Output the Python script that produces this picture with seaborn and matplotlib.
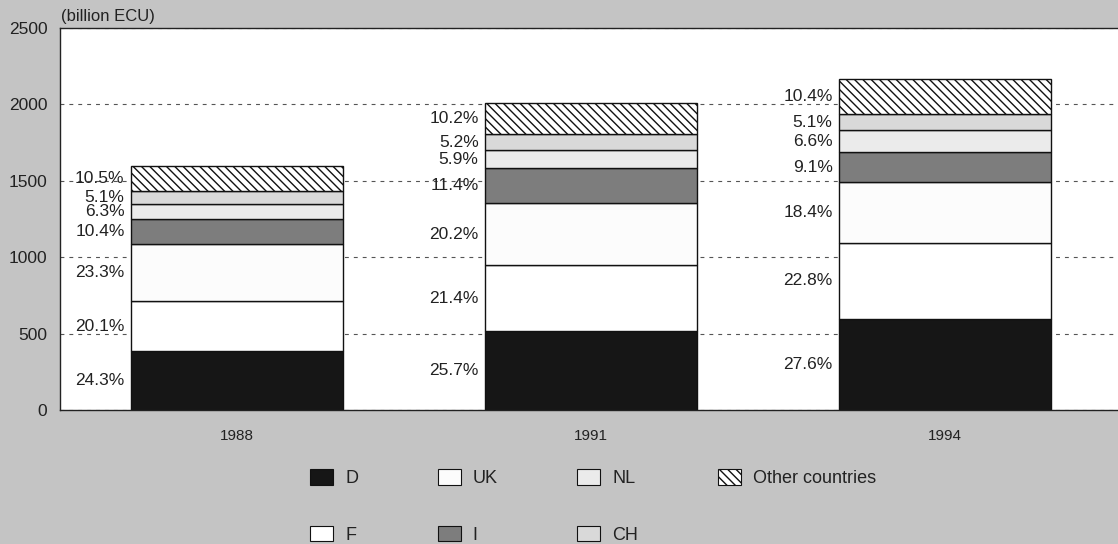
#Importing the necessary libraries
import numpy as np
import pandas as pd
import matplotlib
matplotlib.use('Agg')
import matplotlib.pyplot as plt
from matplotlib.patches import Patch
import seaborn as sns

sns.set_style('white')
plt.rcParams['font.family'] = ['Liberation Sans', 'DejaVu Sans']
plt.rcParams['hatch.linewidth'] = 1.0

#DATA
years = ['1988', '1991', '1994']
totals = [1600, 2010, 2165]   # bar tops, billion ECU
countries = ['D', 'F', 'UK', 'I', 'NL', 'CH', 'Other countries']
share_1988 = [24.3, 20.1, 23.3, 10.4, 6.3, 5.1, 10.5]
share_1991 = [25.7, 21.4, 20.2, 11.4, 5.9, 5.2, 10.2]
share_1994 = [27.6, 22.8, 18.4, 9.1, 6.6, 5.1, 10.4]
yticks = [0, 500, 1000, 1500, 2000, 2500]

colors = ['#161616', '#ffffff', '#fcfcfc', '#7d7d7d', '#ebebeb', '#d9d9d9', '#ffffff']
hatches = ['', '', '', '', '', '', '\\\\\\\\']

shares = pd.DataFrame([share_1988, share_1991, share_1994], index=years, columns=countries)
values = shares.mul(totals, axis=0) / 100

fig = plt.figure(figsize=(11.18, 5.44), dpi=100, facecolor='#c4c4c4')
ax = fig.add_axes([60 / 1118, 1 - 410 / 544, 1 - 60 / 1118, (410 - 28) / 544])
ax.set_facecolor('white')

#STACKED BARS
bottom = np.zeros(len(years))
for c, col, h in zip(countries, colors, hatches):
    vals = values[c].to_numpy()
    sns.barplot(x=years, y=vals, bottom=bottom, color=col, saturation=1, hatch=h,
                edgecolor='#111111', linewidth=1, width=0.6, errorbar=None, ax=ax)
    for i, yr in enumerate(years):
        ax.annotate(f'{shares.loc[yr, c]:.1f}%', xy=(i - 0.3, bottom[i] + vals[i] / 2),
                    xytext=(-4.5, 0), textcoords='offset points', ha='right', va='center',
                    fontsize=12.5, color='#222222')
    bottom = bottom + vals

ax.set_xlim(-0.5, -0.5 + (1118 - 60) / 354)
ax.set_ylim(0, 2500)
ax.set_yticks(yticks)
ax.yaxis.grid(True, linestyle=(0, (3.5, 4.5)), color='#555555', linewidth=0.8)
ax.set_axisbelow(True)
ax.tick_params(axis='y', length=0, pad=9, labelsize=12.5, labelcolor='#222222')
ax.tick_params(axis='x', length=0, pad=14, labelsize=11, labelcolor='#222222')
ax.set_xlabel('')
ax.set_ylabel('')
for side in ['left', 'top', 'bottom']:
    ax.spines[side].set_color('#222222')
    ax.spines[side].set_linewidth(1)
ax.spines['right'].set_visible(False)

fig.text(61 / 1118, 1 - 17 / 544, '(billion ECU)', ha='left', va='center', fontsize=12, color='#222222')

#LEGEND
handles = [Patch(facecolor=col, edgecolor='#111111', hatch=h, linewidth=0.8, label=c)
           for c, col, h in zip(countries, colors, hatches)]
fig.legend(handles=handles, ncol=4, loc='upper left', bbox_to_anchor=(310 / 1118, 1 - 469 / 544),
           frameon=False, fontsize=13, handlelength=1.28, handleheight=0.95, handletextpad=0.67,
           columnspacing=4.4, labelspacing=2.15, borderpad=0, borderaxespad=0,
           labelcolor='#222222')

fig.savefig('out.png', dpi=100, facecolor=fig.get_facecolor())
